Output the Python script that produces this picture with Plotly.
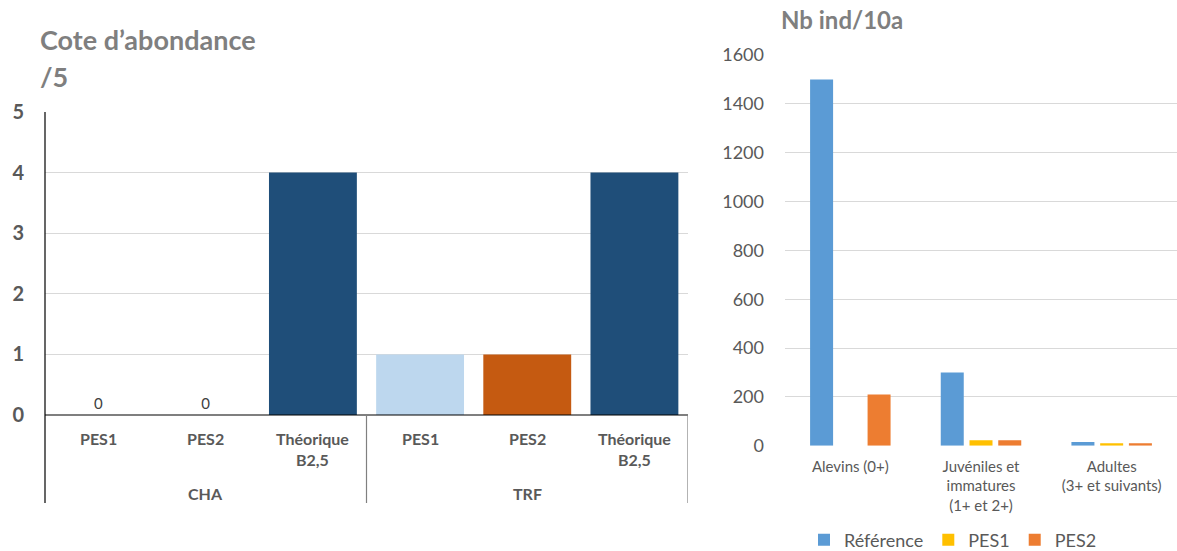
import plotly.graph_objects as go

# --- Cote d'abondance (left panel) ---
abund_groups = ["CHA", "TRF"]
abund_labels = ["PES1", "PES2", "Théorique<br>B2,5"]
abund_values = [0, 0, 4, 1, 1, 4]
abund_colors = ["#BDD7EE", "#C55A11", "#1F4E79", "#BDD7EE", "#C55A11", "#1F4E79"]

# --- Nb ind/10a (right panel) ---
stages = ["Alevins (0+)", "Juvéniles et<br>immatures<br>(1+ et 2+)", "Adultes<br>(3+ et suivants)"]
series_names = ["Référence", "PES1", "PES2"]
series_values = [
    [1500, 300, 15],
    [0, 22, 10],
    [210, 22, 10],
]
series_colors = ["#5B9BD5", "#FFC000", "#ED7D31"]

W, H = 1177, 551
FONT = "Lato"
GRID = "#D9D9D9"
TXT = "#595959"


def px(x):
    return x / W


def py(y):
    return 1 - y / H


fig = go.Figure()

n_left = len(abund_groups) * len(abund_labels)
pos_left = list(range(n_left))
fig.add_trace(go.Bar(
    x=pos_left, y=abund_values, width=0.82,
    marker=dict(color=abund_colors, line=dict(width=0)),
    text=[str(v) if v == 0 else "" for v in abund_values],
    textposition="outside", cliponaxis=False,
    textfont=dict(family=FONT, size=15, color="#404040"),
    showlegend=False, hoverinfo="skip",
    xaxis="x", yaxis="y",
))

for name, vals, col in zip(series_names, series_values, series_colors):
    fig.add_trace(go.Bar(
        x=stages, y=vals, name=name,
        marker=dict(color=col, line=dict(width=0)),
        xaxis="x2", yaxis="y2",
    ))

# left panel geometry (pixels)
L0, L1, LT, LB, LBOT = 45, 688, 112, 415, 503
# right panel geometry (pixels)
R0, R1, RT, RB = 785, 1177, 55, 445.7

annotations = [
    dict(text="<b>Cote d’abondance</b>", x=px(38), y=py(39), xref="paper", yref="paper",
         xanchor="left", yanchor="middle", showarrow=False,
         font=dict(family=FONT, size=27, color="#7F7F7F")),
    dict(text="<b>/5</b>", x=px(38), y=py(76), xref="paper", yref="paper",
         xanchor="left", yanchor="middle", showarrow=False,
         font=dict(family=FONT, size=27, color="#7F7F7F")),
    dict(text="<b>Nb ind/10a</b>", x=px(779), y=py(20), xref="paper", yref="paper",
         xanchor="left", yanchor="middle", showarrow=False,
         font=dict(family=FONT, size=24, color="#7F7F7F")),
]

# category labels under the left panel
for i in pos_left:
    lab = abund_labels[i % len(abund_labels)]
    annotations.append(dict(
        text="<b>" + lab.replace("<br>", "</b><br><b>") + "</b>",
        x=i, y=py(427), xref="x", yref="paper", xanchor="center", yanchor="top",
        showarrow=False, font=dict(family=FONT, size=16, color=TXT)))
for g, name in enumerate(abund_groups):
    mid = g * len(abund_labels) + (len(abund_labels) - 1) / 2
    annotations.append(dict(
        text="<b>" + name + "</b>", x=mid, y=py(493), xref="x", yref="paper",
        xanchor="center", yanchor="middle", showarrow=False,
        font=dict(family=FONT, size=16, color=TXT)))

shapes = [
    dict(type="line", xref="paper", yref="paper", x0=px(L0), x1=px(L0), y0=py(LT), y1=py(LBOT),
         line=dict(color="#000000", width=1.2)),
    dict(type="line", xref="paper", yref="paper", x0=px(L0), x1=px(L1), y0=py(LB), y1=py(LB),
         line=dict(color="#000000", width=1.2)),
]
for g in range(1, len(abund_groups) + 1):
    xd = g * len(abund_labels) - 0.5
    shapes.append(dict(type="line", xref="x", yref="paper", x0=xd, x1=xd, y0=py(LB), y1=py(LBOT),
                       line=dict(color="#808080", width=1.2)))

fig.update_layout(
    width=W, height=H,
    margin=dict(l=0, r=0, t=0, b=0, autoexpand=False),
    paper_bgcolor="white", plot_bgcolor="white",
    barmode="group", bargap=0.34, bargroupgap=0.2,
    font=dict(family=FONT, color=TXT),
    xaxis=dict(domain=[px(L0), px(L1)], range=[-0.5, n_left - 0.5],
               showticklabels=False, showgrid=False, zeroline=False, fixedrange=True),
    yaxis=dict(domain=[py(LB), py(LT)], range=[0, 5], dtick=1,
               showgrid=True, gridcolor=GRID, gridwidth=1, zeroline=False,
               tickfont=dict(family=FONT, size=20, color=TXT),
               tickprefix="<b>", ticksuffix="</b>", ticklabelstandoff=20),
    xaxis2=dict(domain=[px(R0), px(R1)], showgrid=False, zeroline=False,
                tickfont=dict(family=FONT, size=15, color=TXT), anchor="y2",
                ticklabelstandoff=10),
    yaxis2=dict(domain=[py(RB), py(RT)], range=[0, 1600], dtick=200, anchor="x2",
                showgrid=True, gridcolor=GRID, gridwidth=1, zeroline=False,
                tickfont=dict(family=FONT, size=18, color=TXT), ticklabelstandoff=20),
    legend=dict(orientation="h", x=px(953), y=py(540), xanchor="center", yanchor="middle",
                font=dict(family=FONT, size=18, color=TXT), traceorder="normal",
                itemwidth=30),
    annotations=annotations, shapes=shapes,
)

fig.write_html("out.html")
